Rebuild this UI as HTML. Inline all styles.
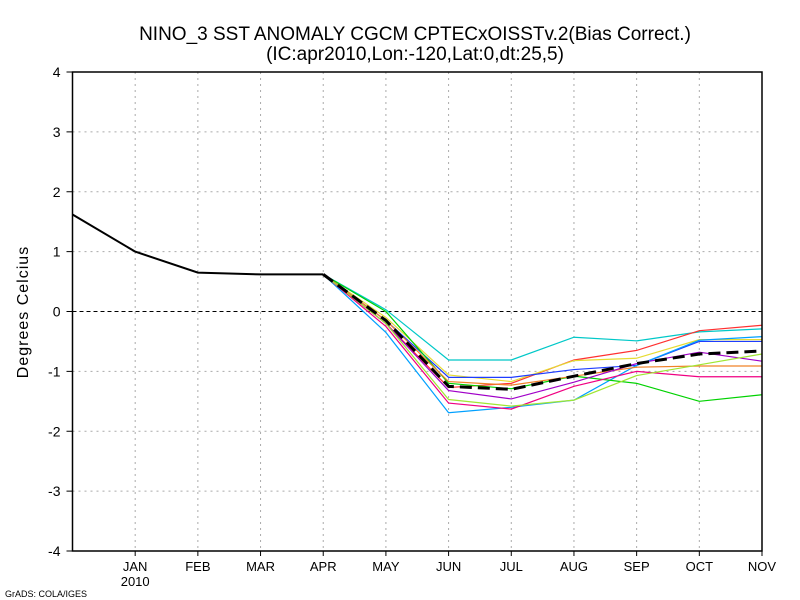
<!DOCTYPE html>
<html><head><meta charset="utf-8"><style>
body{margin:0;background:#fff}
svg{display:block;font-family:"Liberation Sans",sans-serif}
</style></head><body>
<svg id="chart" width="800" height="600">
<text x="415" y="40" text-anchor="middle" font-size="19">NINO_3 SST ANOMALY CGCM CPTECxOISSTv.2(Bias Correct.)</text>
<text x="415" y="60" text-anchor="middle" font-size="19">(IC:apr2010,Lon:-120,Lat:0,dt:25,5)</text>
<text transform="translate(28,312) rotate(-90)" text-anchor="middle" font-size="16" letter-spacing="1">Degrees Celcius</text>
<text x="5" y="597" font-size="9">GrADS: COLA/IGES</text>
<g id="grid"></g><g id="series"></g><g id="axes"></g>
</svg>
<script>
const months=["DEC","JAN","FEB","MAR","APR","MAY","JUN","JUL","AUG","SEP","OCT","NOV"];
const yTicks=[-4,-3,-2,-1,0,1,2,3,4];
const observed=[1.62,1.0,0.65,0.62,0.62];
const memberColors=["#00c8c8","#ff3030","#e6dc32","#1e3cff","#00a0ff","#00d200","#f08228","#a000c8","#f00082","#a0e632"];
const memberMay=[0.03,-0.2,-0.1,-0.15,-0.35,0.0,-0.15,-0.2,-0.25,-0.2];
const memberJun=[-0.81,-1.27,-1.06,-1.1,-1.69,-1.2,-1.17,-1.32,-1.53,-1.47];
const memberJul=[-0.81,-1.2,-1.17,-1.1,-1.6,-1.29,-1.23,-1.46,-1.63,-1.58];
const memberAug=[-0.43,-0.81,-0.82,-0.97,-1.48,-1.08,-1.08,-1.18,-1.25,-1.48];
const memberSep=[-0.49,-0.65,-0.78,-0.9,-0.9,-1.2,-0.93,-0.87,-1.0,-1.07];
const memberOct=[-0.34,-0.32,-0.47,-0.5,-0.48,-1.5,-0.91,-0.68,-1.09,-0.89];
const memberNov=[-0.29,-0.23,-0.47,-0.5,-0.42,-1.39,-0.91,-0.83,-1.09,-0.71];
const ensembleMean=[0.62,-0.15,-1.25,-1.3,-1.08,-0.87,-0.71,-0.66];
const X0=72.5,X1=762,Y0=551,Y1=72;
const xs=i=>X0+i*(X1-X0)/11;
const ys=v=>Y0-(v+4)*(Y0-Y1)/8;
const NS="http://www.w3.org/2000/svg";
function mk(t,p,a){const e=document.createElementNS(NS,t);for(const k in a)e.setAttribute(k,a[k]);p.appendChild(e);return e;}
const grid=document.getElementById('grid'),axes=document.getElementById('axes'),ser=document.getElementById('series');
for(let i=1;i<11;i++){const l=mk('line',grid,{x1:xs(i),x2:xs(i),y1:Y1,y2:Y0,stroke:'#aaa','stroke-dasharray':'2,4'});

}
yTicks.forEach(v=>{if(v>-4&&v<4&&v!==0){const l=mk('line',grid,{x1:X0,x2:X1,y1:ys(v),y2:ys(v),stroke:'#aaa','stroke-dasharray':'2,4'});

}
const t=mk('text',axes,{x:X0-12,y:ys(v)+5,'text-anchor':'end','font-size':'14'});t.textContent=v;


const tk=mk('line',axes,{x1:X0-6,x2:X0,y1:ys(v),y2:ys(v),stroke:'#000'});

});
const zl=mk('line',grid,{x1:X0,x2:X1,y1:ys(0),y2:ys(0),stroke:'#000','stroke-dasharray':'4,3'});


months.forEach((m,i)=>{if(i===0)return;const t=mk('text',axes,{x:xs(i),y:571,'text-anchor':'middle','font-size':'13'});t.textContent=m;


const tk=mk('line',axes,{x1:xs(i),x2:xs(i),y1:Y0,y2:Y0+5,stroke:'#000'});

});
const yr=mk('text',axes,{x:xs(1),y:586,'text-anchor':'middle','font-size':'13'});yr.textContent='2010';


const fr=mk('rect',axes,{x:X0,y:Y1,width:X1-X0,height:Y0-Y1,fill:'none',stroke:'#000','stroke-width':'1.5'});


memberColors.forEach((c,k)=>{const vals=[observed[4],memberMay[k],memberJun[k],memberJul[k],memberAug[k],memberSep[k],memberOct[k],memberNov[k]];
const p=mk('polyline',ser,{points:vals.map((v,j)=>xs(4+j)+','+ys(v)).join(' '),fill:'none',stroke:c,'stroke-width':'1.2'});

});
const m=mk('polyline',ser,{points:ensembleMean.map((v,j)=>xs(4+j)+','+ys(v)).join(' '),fill:'none',stroke:'#000','stroke-width':'3','stroke-dasharray':'12,6'});


const o=mk('polyline',ser,{points:observed.map((v,j)=>xs(j)+','+ys(v)).join(' '),fill:'none',stroke:'#000','stroke-width':'2'});


</script>
</body></html>
